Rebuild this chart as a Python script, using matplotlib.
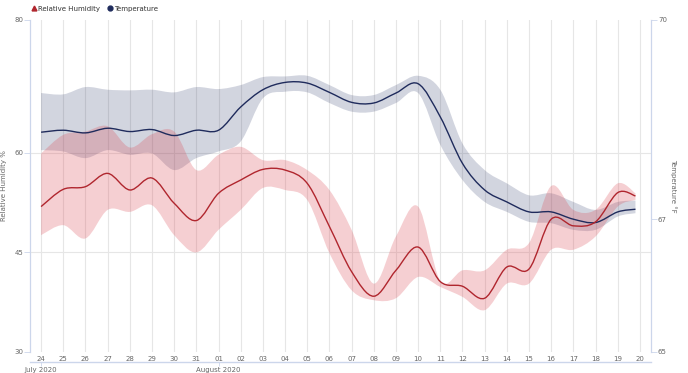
import matplotlib
matplotlib.use("Agg")
import matplotlib.pyplot as plt
from matplotlib.path import Path
from matplotlib.patches import PathPatch
from matplotlib.lines import Line2D
import numpy as np

# ---------------- data ----------------
day_labels = ["24", "25", "26", "27", "28", "29", "30", "31",
              "01", "02", "03", "04", "05", "06", "07", "08", "09", "10",
              "11", "12", "13", "14", "15", "16", "17", "18", "19", "20"]
month_labels = ["July 2020", "August 2020"]
month_pos = [0, 8]

x_days = [0, 1, 2, 3, 4, 5, 6, 7, 8, 9, 10, 11, 12, 13, 14, 15, 16, 17, 18,
          19, 20, 21, 22, 23, 24, 25, 26, 26.8]

rh_mean = [51.9, 54.5, 54.9, 56.9, 54.4, 56.2, 52.4, 49.8, 53.9, 55.9, 57.5,
           57.4, 55.4, 48.9, 42.1, 38.4, 42.3, 45.8, 40.6, 39.9, 38.1, 42.8,
           42.5, 50.0, 49.0, 49.6, 54.0, 53.5]
rh_high = [59.9, 62.7, 63.2, 64.0, 60.8, 62.8, 63.2, 57.4, 59.7, 60.9, 58.9,
           58.9, 57.4, 54.4, 48.4, 40.3, 47.4, 51.9, 40.7, 42.3, 42.3, 45.4,
           46.4, 55.0, 51.4, 51.4, 55.4, 53.9]
rh_low = [47.6, 49.1, 47.1, 51.4, 51.1, 52.1, 47.6, 45.0, 48.4, 51.4, 54.7,
          54.4, 52.9, 44.9, 39.3, 37.8, 38.1, 41.3, 39.8, 38.3, 36.3, 40.3,
          40.3, 45.4, 45.4, 47.4, 51.9, 52.9]

t_mean = [68.31, 68.34, 68.30, 68.37, 68.32, 68.35, 68.26, 68.34, 68.34,
          68.69, 68.95, 69.06, 69.05, 68.91, 68.76, 68.75, 68.90, 69.04,
          68.54, 67.84, 67.44, 67.26, 67.11, 67.11, 67.00, 66.95, 67.11, 67.15]
t_high = [68.90, 68.88, 68.99, 68.95, 68.94, 68.95, 68.91, 68.99, 68.96,
          69.02, 69.14, 69.15, 69.16, 69.02, 68.87, 68.87, 69.02, 69.16,
          68.95, 68.14, 67.74, 67.54, 67.36, 67.39, 67.26, 67.14, 67.26, 67.28]
t_low = [68.04, 68.02, 67.92, 68.04, 67.97, 67.99, 67.74, 67.92, 68.02,
         68.17, 68.82, 68.92, 68.91, 68.75, 68.62, 68.62, 68.75, 68.90,
         68.12, 67.59, 67.26, 67.11, 66.96, 66.94, 66.84, 66.84, 67.04, 67.09]

rh_ticks = [30, 45, 60, 80]
t_ticks = [65, 67, 70]

# ---------------- helpers ----------------
def smooth_segments(xs, ys, k=1/6.0):
    """Catmull-Rom style cubic Bezier segments through the points."""
    xs = np.asarray(xs, float)
    ys = np.asarray(ys, float)
    n = len(xs)
    verts, codes = [], []
    for i in range(n - 1):
        p0 = (xs[max(i - 1, 0)], ys[max(i - 1, 0)])
        p1 = (xs[i], ys[i])
        p2 = (xs[i + 1], ys[i + 1])
        p3 = (xs[min(i + 2, n - 1)], ys[min(i + 2, n - 1)])
        c1 = (p1[0] + (p2[0] - p0[0]) * k, p1[1] + (p2[1] - p0[1]) * k)
        c2 = (p2[0] - (p3[0] - p1[0]) * k, p2[1] - (p3[1] - p1[1]) * k)
        verts += [c1, c2, p2]
        codes += [Path.CURVE4] * 3
    return verts, codes


def line_path(xs, ys):
    v, c = smooth_segments(xs, ys)
    return Path([(xs[0], ys[0])] + v, [Path.MOVETO] + c)


def band_path(xs, hi, lo):
    v1, c1 = smooth_segments(xs, hi)
    v2, c2 = smooth_segments(xs[::-1], lo[::-1])
    verts = [(xs[0], hi[0])] + v1 + [(xs[-1], lo[-1])] + v2 + [(xs[0], hi[0])]
    codes = [Path.MOVETO] + c1 + [Path.LINETO] + c2 + [Path.CLOSEPOLY]
    return Path(verts, codes)


# ---------------- figure ----------------
W, H = 688, 373
fig = plt.figure(figsize=(W / 100, H / 100), dpi=100)
plt.rcParams['font.family'] = ['DejaVu Sans']
ax = fig.add_axes([30 / W, 1 - 352 / H, (651 - 30) / W, (352 - 20) / H])
ax2 = ax.twinx()

label_col = "#666666"
axis_col = "#ccd6eb"
grid_col = "#e6e6e6"
red = "#b0262e"
navy = "#1f2b5c"

ax.set_xlim(-0.5, 27.5)
ax.set_ylim(30, 80)
ax2.set_ylim(65, 70)

# bands and lines (temperature artists use ax2 data transform, drawn in ax)
t_band = PathPatch(band_path(x_days, t_high, t_low), transform=ax2.transData,
                   facecolor=(0.13, 0.18, 0.38), alpha=0.2, edgecolor='none', zorder=2)
rh_band = PathPatch(band_path(x_days, rh_high, rh_low), transform=ax.transData,
                    facecolor=(0.86, 0.28, 0.32), alpha=0.26, edgecolor='none', zorder=3)
ax.add_patch(t_band)
ax.add_patch(rh_band)
t_line = PathPatch(line_path(x_days, t_mean), transform=ax2.transData,
                   facecolor='none', edgecolor=navy, lw=1.0, zorder=4)
rh_line = PathPatch(line_path(x_days, rh_mean), transform=ax.transData,
                    facecolor='none', edgecolor=red, lw=1.0, zorder=5)
ax.add_patch(t_line)
ax.add_patch(rh_line)

# x axis
ax.set_xticks(range(len(day_labels)))
ax.set_xticklabels(day_labels)
ax.tick_params(axis='x', length=0, pad=3, labelsize=5, labelcolor=label_col)
ax.grid(axis='x', color=grid_col, lw=0.8)
for y in [45, 60]:
    ax.axhline(y, color=grid_col, lw=0.8, zorder=0)

# left y axis
ax.set_yticks(rh_ticks)
ax.tick_params(axis='y', length=4, width=0.6, color=axis_col, pad=1,
               labelsize=5, labelcolor=label_col)
ax.set_ylabel("Relative Humidity %", fontsize=5, color=label_col, labelpad=10)

# right y axis
ax2.set_yticks(t_ticks)
ax2.tick_params(axis='y', length=4, width=0.6, color=axis_col, pad=1,
                labelsize=5, labelcolor=label_col)
ax2.set_ylabel("Temperature °F", fontsize=5, color=label_col, rotation=270,
               labelpad=22)
ax2.yaxis.set_label_coords(1.042, 0.5)
ax.yaxis.set_label_coords(-0.037, 0.5)

for a in (ax, ax2):
    a.spines['top'].set_visible(False)
    a.spines['bottom'].set_visible(False)
    a.spines['left'].set_color(axis_col)
    a.spines['right'].set_color(axis_col)
    a.spines['left'].set_linewidth(0.8)
    a.spines['right'].set_linewidth(0.8)
ax.set_zorder(ax2.get_zorder() + 1)
ax.patch.set_visible(False)

# month axis
sec = ax.secondary_xaxis(-10 / 332)
sec.set_xticks(month_pos)
sec.set_xticklabels(month_labels)
sec.tick_params(axis='x', length=3, width=0.6, color=axis_col, pad=0.5,
                labelsize=5, labelcolor=label_col)
sec.spines['bottom'].set_color(axis_col)
sec.spines['bottom'].set_linewidth(1.0)

# legend
handles = [Line2D([], [], marker='^', color=red, ls='none', markersize=3.5),
           Line2D([], [], marker='o', color=navy, ls='none', markersize=3.5)]
fig.legend(handles, ["Relative Humidity", "Temperature"], loc='upper left',
           bbox_to_anchor=(26 / W, 1 - 1 / H), ncol=2, frameon=False,
           fontsize=5, handletextpad=0.1, columnspacing=0.8, borderpad=0.2,
           handlelength=1.0, labelcolor="#333333")

fig.savefig("out.png", dpi=100)
